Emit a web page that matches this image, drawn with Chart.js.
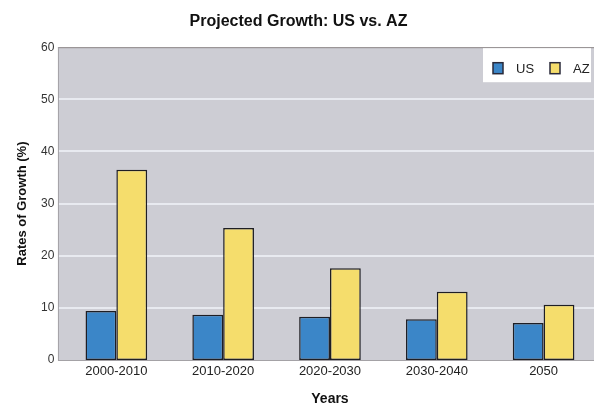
<!DOCTYPE html>
<html>
<head>
<meta charset="utf-8">
<script src="https://cdn.jsdelivr.net/npm/chart.js@4.4.0/dist/chart.umd.min.js"></script>
<style>
  html, body { margin: 0; padding: 0; background: #ffffff; }
  #wrap { width: 597px; height: 404px; }
</style>
</head>
<body>
<div id="wrap"><canvas id="chart" width="597" height="404"></canvas></div>
<script>
// Projected growth rates by decade, United States vs. Arizona
const periods = ['2000-2010', '2010-2020', '2020-2030', '2030-2040', '2050'];
const usGrowth = [9.4, 8.7, 8.3, 7.8, 7.1];
const azGrowth = [36.5, 25.3, 17.6, 13.1, 10.6];
const yTicks = [0, 10, 20, 30, 40, 50, 60];

const FONT = '"Liberation Sans", Arial, Helvetica, sans-serif';

// Grey plot panel with light gridlines, drawn from the value scale
const plotPanel = {
  id: 'plotPanel',
  beforeDatasetsDraw(chart) {
    const { ctx, chartArea, scales } = chart;
    const y = scales.y;
    const left = chartArea.left - 5;
    const right = chartArea.right - 3;
    const top = y.getPixelForValue(yTicks[yTicks.length - 1]);
    const bottom = y.getPixelForValue(yTicks[0]);
    ctx.save();
    ctx.fillStyle = '#cdcdd4';
    ctx.fillRect(left, top, right - left, bottom - top);
    ctx.strokeStyle = '#e8eaf0';
    ctx.lineWidth = 2;
    yTicks.slice(1, -1).forEach(v => {
      const py = Math.round(y.getPixelForValue(v));
      ctx.beginPath();
      ctx.moveTo(left, py);
      ctx.lineTo(right, py);
      ctx.stroke();
    });
    ctx.lineWidth = 1;
    ctx.strokeStyle = '#8e8888';
    ctx.beginPath();
    ctx.moveTo(left, top + 0.5);
    ctx.lineTo(right, top + 0.5);
    ctx.stroke();
    ctx.strokeStyle = '#a4a2a6';
    ctx.beginPath();
    ctx.moveTo(left + 0.5, top);
    ctx.lineTo(left + 0.5, bottom);
    ctx.moveTo(left, bottom + 0.5);
    ctx.lineTo(right, bottom + 0.5);
    ctx.stroke();
    ctx.restore();
  }
};

// Boxed legend in the top-right corner of the panel
const cornerLegend = {
  id: 'cornerLegend',
  afterDatasetsDraw(chart) {
    const { ctx, chartArea } = chart;
    const boxRight = chartArea.right - 6;
    const boxLeft = boxRight - 108;
    const boxTop = chartArea.top + 1;
    const boxH = 34;
    ctx.save();
    ctx.fillStyle = '#ffffff';
    ctx.fillRect(boxLeft, boxTop, boxRight - boxLeft, boxH);
    ctx.font = '13px ' + FONT;
    ctx.textBaseline = 'middle';
    const cy = boxTop + 20;
    const starts = [boxLeft + 10, boxLeft + 67];
    chart.data.datasets.forEach((ds, i) => {
      const x = starts[i];
      ctx.fillStyle = ds.backgroundColor;
      ctx.fillRect(x, cy - 5.5, 10, 11);
      ctx.strokeStyle = '#2a2a3a';
      ctx.lineWidth = 1.5;
      ctx.strokeRect(x, cy - 5.5, 10, 11);
      ctx.fillStyle = '#222222';
      ctx.fillText(ds.label, x + 23, cy + 1);
    });
    ctx.restore();
  }
};

new Chart(document.getElementById('chart'), {
  type: 'bar',
  data: {
    labels: periods,
    datasets: [
      {
        label: 'US',
        data: usGrowth,
        backgroundColor: '#3b86c8',
        borderColor: '#1e1e24',
        borderWidth: 1.5,
        borderSkipped: false
      },
      {
        label: 'AZ',
        data: azGrowth,
        backgroundColor: '#f5dd6c',
        borderColor: '#1e1e24',
        borderWidth: 1.5,
        borderSkipped: false
      }
    ]
  },
  options: {
    responsive: false,
    animation: false,
    devicePixelRatio: 1,
    layout: { padding: 0 },
    datasets: {
      bar: { categoryPercentage: 0.577, barPercentage: 1.0 }
    },
    plugins: {
      legend: { display: false },
      tooltip: { enabled: false },
      title: {
        display: true,
        text: 'Projected Growth: US vs. AZ',
        color: '#111111',
        font: { family: FONT, size: 16, weight: 'bold' },
        padding: { top: 12, bottom: 16 }
      }
    },
    scales: {
      x: {
        grid: { display: false, drawTicks: false, tickLength: 0 },
        border: { display: false },
        ticks: {
          color: '#222222',
          font: { family: FONT, size: 13 },
          padding: 4,
          maxRotation: 0
        },
        title: {
          display: true,
          text: 'Years',
          color: '#111111',
          font: { family: FONT, size: 14, weight: 'bold', lineHeight: 1 },
          padding: { top: 8.4, bottom: -2 }
        }
      },
      y: {
        min: yTicks[0],
        max: yTicks[yTicks.length - 1],
        grid: { display: false, drawTicks: false, tickLength: 0 },
        border: { display: false },
        ticks: {
          stepSize: 10,
          color: '#333333',
          font: { family: FONT, size: 12 },
          padding: 8.5
        },
        title: {
          display: true,
          text: 'Rates of Growth (%)',
          color: '#111111',
          font: { family: FONT, size: 13, weight: 'bold' },
          padding: { top: 14.5, bottom: 2.5 }
        }
      }
    }
  },
  plugins: [plotPanel, cornerLegend]
});
</script>
</body>
</html>
